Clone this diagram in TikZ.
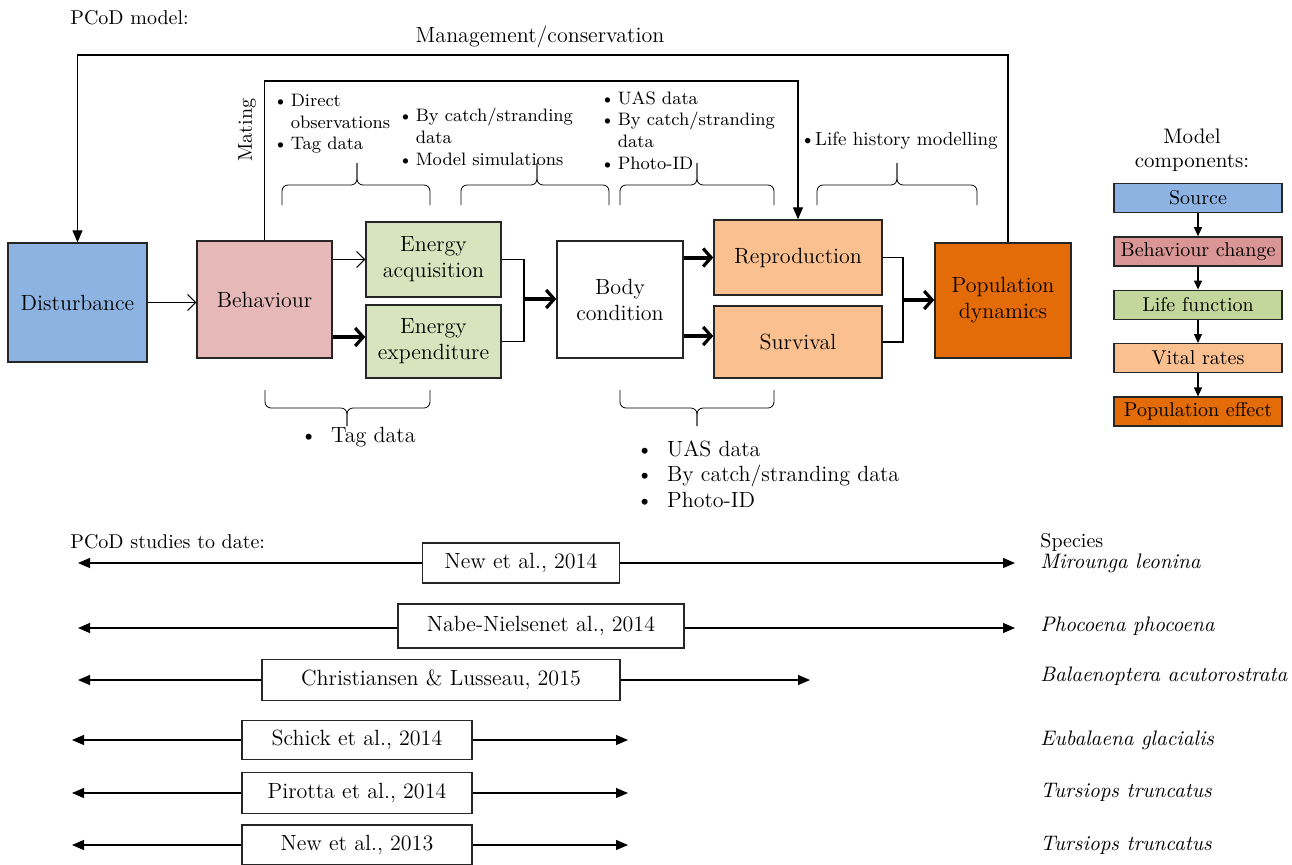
\documentclass[tikz,border=0pt]{standalone}
\usepackage{tikz}
\usetikzlibrary{arrows.meta}
\usetikzlibrary{positioning}

\definecolor{srcblue}{RGB}{141,179,226}
\definecolor{behpink}{RGB}{230,185,184}
\definecolor{behlegend}{RGB}{217,150,148}
\definecolor{lifegreen}{RGB}{215,228,189}
\definecolor{lifelegend}{RGB}{195,214,155}
\definecolor{vitalpeach}{RGB}{250,192,144}
\definecolor{poporange}{RGB}{227,108,9}

% curly braces drawn as bent lines
\newcommand{\topbrace}[3]{%
  \draw[rounded corners=3pt] (#1,205) -- (#1,185) -- (#3,185) -- (#3,163);
  \draw[rounded corners=3pt] (#2,205) -- (#2,185) -- (#3,185) -- (#3,163);}
\newcommand{\lowbrace}[3]{%
  \draw[rounded corners=3pt] (#1,390) -- (#1,408) -- (#3,408) -- (#3,426);
  \draw[rounded corners=3pt] (#2,390) -- (#2,408) -- (#3,408) -- (#3,426);}

\begin{document}
\begin{tikzpicture}[x=0.5pt,y=-0.5pt,
  box/.style={draw=black!85, line width=0.7pt, align=center, font=\fontsize{11}{13}\selectfont, inner sep=1pt},
  legbox/.style={draw=black!85, line width=0.7pt, minimum width=84pt, minimum height=14.5pt, inner sep=0pt, font=\fontsize{10}{12}\selectfont},
  study/.style={draw=black!85, line width=0.6pt, fill=white, inner sep=0pt, font=\fontsize{11}{13}\selectfont},
  species/.style={anchor=west, inner sep=0pt, font=\fontsize{10.5}{12}\selectfont\itshape},
  notes/.style={anchor=north west, align=left, inner sep=0pt, font=\fontsize{9}{10.8}\selectfont},
  thinarr/.style={line width=0.5pt, -{Straight Barb[length=4pt,width=8pt]}},
  thickarr/.style={line width=2pt, -{Straight Barb[length=4pt,width=9pt,line width=1.6pt]}},
  tip/.style={line width=0.6pt, -{Triangle[length=6pt,width=5pt]}},
  smalltip/.style={line width=0.6pt, -{Triangle[length=4.5pt,width=4pt]}}]

\useasboundingbox (0,0) rectangle (1292,864);

% titles
\node[anchor=west, inner sep=0pt, font=\fontsize{10}{12}\selectfont] (mtitle) at (70,18) {PCoD model:};
\node[inner sep=0pt, font=\fontsize{11}{13}\selectfont] (mgmt) at (540,37) {Management/conservation};

% model boxes
\node[box, fill=srcblue, minimum width=69.5pt, minimum height=59.5pt] (dist) at (77.5,302.5) {Disturbance};
\node[box, fill=behpink, minimum width=67.5pt, minimum height=58.5pt] (behav) at (264.5,299.5) {Behaviour};
\node[box, fill=lifegreen, minimum width=67.5pt, minimum height=37.5pt] (acq) at (433.5,259.5) {Energy\\acquisition};
\node[box, fill=lifegreen, minimum width=67.5pt, minimum height=36.5pt] (expd) at (433.5,341.5) {Energy\\expenditure};
\node[box, fill=white, minimum width=63pt, minimum height=58.5pt] (body) at (620,299.5) {Body\\condition};
\node[box, fill=vitalpeach, minimum width=84pt, minimum height=37.5pt] (repr) at (798,257.5) {Reproduction};
\node[box, fill=vitalpeach, minimum width=84pt, minimum height=36pt] (surv) at (798,342) {Survival};
\node[box, fill=poporange, minimum width=68pt, minimum height=57.5pt] (pop) at (1003,300.5) {Population\\dynamics};

% flow
\coordinate (jn1) at (524,299);
\coordinate (jn2) at (903,300);
\draw[thinarr] (dist.east) -- (dist.east -| behav.west);
\draw[thinarr] (behav.east |- acq) -- (acq.west);
\draw[thickarr] (behav.east |- 0,337) -- (expd.west |- 0,337);
\draw[line width=0.6pt] (acq.east) -| (jn1) |- (expd.east);
\draw[thickarr] (jn1) -- (body.west |- jn1);
\draw[thickarr] (body.east |- repr) -- (repr.west);
\draw[thickarr] (body.east |- 0,336) -- (surv.west |- 0,336);
\draw[line width=0.6pt] (repr.east) -| (jn2) |- (surv.east);
\draw[thickarr] (jn2) -- (pop.west |- jn2);

% feedback loops
\coordinate (mg) at (0,55);
\coordinate (mt) at (0,81);
\draw[tip] ([xshift=2.5pt]pop.north) |- (dist.north |- mg) -- (dist.north);
\draw[tip] (behav.north) |- (repr.north |- mt) -- (repr.north);
\node[rotate=90, inner sep=0pt, font=\fontsize{10}{12}\selectfont] (mating) at (247,130) {Mating};

% data sources
\node[notes] (n1) at (273,94) {\textbullet\,Direct\\\hphantom{\textbullet\,}observations\\\textbullet\,Tag data};
\node[notes] (n2) at (398,108) {\textbullet\,By catch/stranding\\\hphantom{\textbullet\,}data\\\textbullet\,Model simulations};
\node[notes] (n3) at (600,91) {\textbullet\,UAS data\\\textbullet\,By catch/stranding\\\hphantom{\textbullet\,}data\\\textbullet\,Photo-ID};
\node[notes, font=\fontsize{9.5}{11}\selectfont] (n4) at (800,132) {\textbullet Life history modelling};
\topbrace{282}{430}{357}
\topbrace{461}{609}{537}
\topbrace{620}{774}{697}
\topbrace{817}{977}{897}
\lowbrace{265}{430}{347}
\lowbrace{620}{774}{697}
\node[anchor=west, inner sep=0pt, font=\fontsize{11}{13}\selectfont] (n5) at (300,437) {\textbullet\hspace{7pt}Tag data};
\node[anchor=north west, align=left, inner sep=0pt, font=\fontsize{11}{12.8}\selectfont] (n6) at (636,440)
  {\textbullet\hspace{7pt}UAS data\\\textbullet\hspace{7pt}By catch/stranding data\\\textbullet\hspace{7pt}Photo-ID};

% legend
\node[align=center, inner sep=0pt, font=\fontsize{10.5}{12}\selectfont] (legtitle) at (1192,150) {Model\\components:};
\node[legbox, fill=srcblue] (lsrc) at (1198,198) {Source};
\node[legbox, fill=behlegend, below=11.5pt of lsrc] (lbeh) {Behaviour change};
\node[legbox, fill=lifelegend, below=11.5pt of lbeh] (llife) {Life function};
\node[legbox, fill=vitalpeach, below=11.5pt of llife] (lvital) {Vital rates};
\node[legbox, fill=poporange, below=11.5pt of lvital] (lpop) {Population effect};
\draw[smalltip] (lsrc) -- (lbeh);
\draw[smalltip] (lbeh) -- (llife);
\draw[smalltip] (llife) -- (lvital);
\draw[smalltip] (lvital) -- (lpop);

% studies
\node[anchor=west, inner sep=0pt, font=\fontsize{10}{12}\selectfont] (stitle) at (70,542) {PCoD studies to date:};
\node[anchor=west, inner sep=0pt, font=\fontsize{10}{12}\selectfont] (sptitle) at (1040,542) {Species};

\node[study, minimum width=98.5pt, minimum height=20pt] (s1) at (521,563) {New et al., 2014};
\coordinate (s1l) at (78,563); \coordinate (s1r) at (1015,563);
\draw[tip] (s1.west) -- (s1l); \draw[tip] (s1.east) -- (s1r);
\node[species] (sp1) at (1040,563) {Mirounga leonina};

\node[study, minimum width=143pt, minimum height=22pt] (s2) at (541,626) {Nabe-Nielsenet al., 2014};
\coordinate (s2l) at (78,628); \coordinate (s2r) at (1015,628);
\draw[tip] (s2.west |- s2l) -- (s2l); \draw[tip] (s2.east |- s2r) -- (s2r);
\node[species] (sp2) at (1040,626) {Phocoena phocoena};

\node[study, minimum width=179pt, minimum height=20.5pt] (s3) at (441,680) {Christiansen \& Lusseau, 2015};
\coordinate (s3l) at (78,680); \coordinate (s3r) at (810,680);
\draw[tip] (s3.west) -- (s3l); \draw[tip] (s3.east) -- (s3r);
\node[species] (sp3) at (1040,676) {Balaenoptera acutorostrata};

\node[study, minimum width=115pt, minimum height=19.5pt] (s4) at (357,740) {Schick et al., 2014};
\coordinate (s4l) at (72,740); \coordinate (s4r) at (628,740);
\draw[tip] (s4.west) -- (s4l); \draw[tip] (s4.east) -- (s4r);
\node[species] (sp4) at (1040,740) {Eubalaena glacialis};

\node[study, minimum width=115pt, minimum height=20.5pt] (s5) at (357,793) {Pirotta et al., 2014};
\coordinate (s5l) at (72,793); \coordinate (s5r) at (628,793);
\draw[tip] (s5.west) -- (s5l); \draw[tip] (s5.east) -- (s5r);
\node[species] (sp5) at (1040,792) {Tursiops truncatus};

\node[study, minimum width=115pt, minimum height=20pt] (s6) at (357,845) {New et al., 2013};
\coordinate (s6l) at (72,845); \coordinate (s6r) at (628,845);
\draw[tip] (s6.west) -- (s6l); \draw[tip] (s6.east) -- (s6r);
\node[species] (sp6) at (1040,845) {Tursiops truncatus};
\end{tikzpicture}
\end{document}
